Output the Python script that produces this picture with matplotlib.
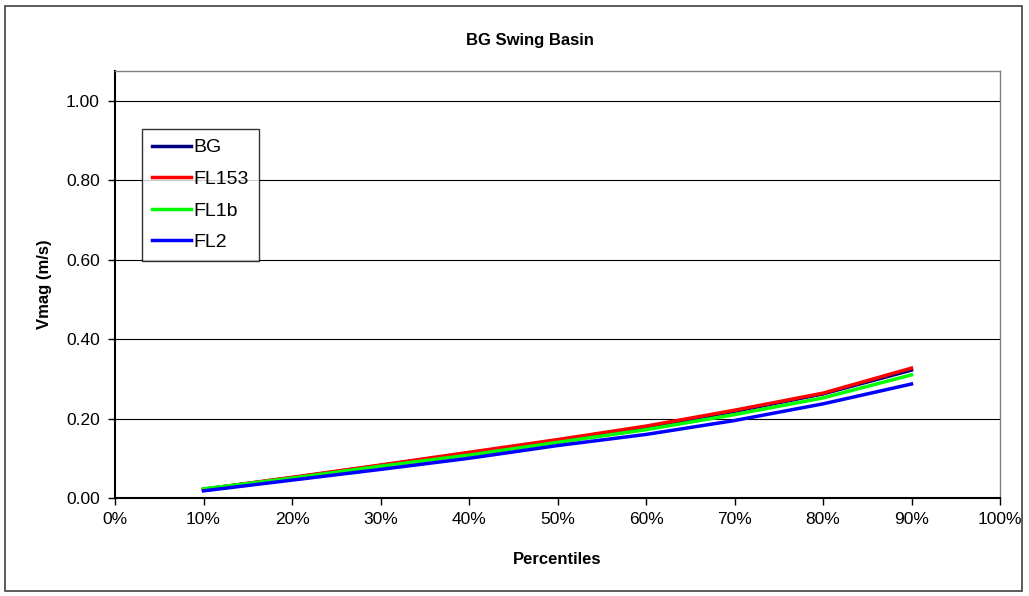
import matplotlib
matplotlib.use("Agg")
import matplotlib.pyplot as plt
from matplotlib.patches import Rectangle
from matplotlib.ticker import FuncFormatter, MultipleLocator

plt.rcParams.update({"font.family": ["Liberation Sans", "DejaVu Sans"], "font.size": 12})

percentiles = [10, 20, 30, 40, 50, 60, 70, 80, 90]
bg = [0.022, 0.051, 0.082, 0.113, 0.145, 0.178, 0.218, 0.262, 0.322]
fl153 = [0.022, 0.052, 0.083, 0.115, 0.147, 0.181, 0.221, 0.264, 0.327]
fl1b = [0.023, 0.050, 0.080, 0.108, 0.140, 0.172, 0.210, 0.252, 0.310]
fl2 = [0.018, 0.045, 0.072, 0.100, 0.132, 0.160, 0.195, 0.237, 0.287]

series = [("BG", bg, "#000080"), ("FL153", fl153, "#ff0000"),
          ("FL1b", fl1b, "#00ff00"), ("FL2", fl2, "#0000ff")]

fig = plt.figure(figsize=(10.29, 5.96), dpi=100)
fig.patches.append(Rectangle((5 / 1029, 5 / 596), 1017 / 1029, 585 / 596,
                             transform=fig.transFigure, fill=False,
                             edgecolor="#404040", lw=1.2))
ax = fig.add_axes([115 / 1029, 1 - 498 / 596, 885 / 1029, 427 / 596])

for name, vals, col in series:
    ax.plot(percentiles, vals, color=col, lw=2.5, label=name)

ax.set_xlim(0, 100)
ax.set_ylim(0, 1.075)
ax.xaxis.set_major_locator(MultipleLocator(10))
ax.set_yticks([0, 0.2, 0.4, 0.6, 0.8, 1.0])
ax.xaxis.set_major_formatter(FuncFormatter(lambda v, p: f"{v:.0f}%"))
ax.yaxis.set_major_formatter(FuncFormatter(lambda v, p: f"{v:.2f}"))
ax.grid(axis="y", color="black", lw=0.8)
ax.set_axisbelow(True)
ax.tick_params(direction="out", length=5, width=1, colors="black", labelsize=12.5, pad=6)
ax.tick_params(axis="x", pad=5)
for s in ("top", "right"):
    ax.spines[s].set_color("#808080")
    ax.spines[s].set_linewidth(1)
for s in ("left", "bottom"):
    ax.spines[s].set_linewidth(1.5)

ax.set_xlabel("Percentiles", fontweight="bold", fontsize=12, labelpad=18)
ax.set_ylabel("Vmag (m/s)", fontweight="bold", fontsize=12, labelpad=10)
fig.text(530 / 1029, 1 - 40 / 596, "BG Swing Basin", ha="center", va="center",
         fontweight="bold", fontsize=12)

leg = ax.legend(loc="upper left", bbox_to_anchor=(27 / 885, (498 - 129) / 427),
                frameon=True, fancybox=False, edgecolor="black", fontsize=14,
                handlelength=2.0, handletextpad=0.15, borderpad=0.5, labelspacing=0.72,
                borderaxespad=0)
leg.get_frame().set_linewidth(1)

fig.savefig("out.png", dpi=100)
